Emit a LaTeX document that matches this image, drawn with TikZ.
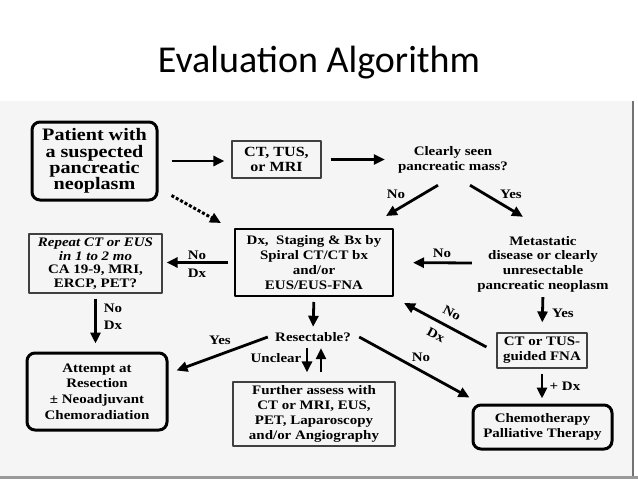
\documentclass[tikz,border=0pt]{standalone}
\usepackage{fontspec}
\setmainfont{Liberation Serif}[FakeStretch=1.15]
\newfontfamily\titlefont{Carlito}
\usetikzlibrary{arrows.meta,calc}
\begin{document}
\begin{tikzpicture}[x=1pt,y=-1pt,line join=round,>={Triangle[length=11pt,width=10pt]},
		font=\fontsize{13}{15}\selectfont\bfseries,
		box/.style={draw=black!75,line width=1.2pt,align=center,inner sep=0pt},
		mainbox/.style={draw=black,line width=2pt,align=center,inner sep=0pt},
		endbox/.style={draw=black,line width=3pt,rounded corners=8pt,align=center,inner sep=0pt},
		plain/.style={align=center,inner sep=0pt},
		arr/.style={->,line width=2.8pt},
		dotarr/.style={->,line width=3pt,dash pattern=on 3pt off 2pt}]
	\useasboundingbox (0,0) rectangle (638,479);
	\fill[black!4] (0,101) rectangle (633,476);
	\draw[black!55,line width=1.5pt] (633,101) -- (633,476);
	\draw[black!40,line width=3pt] (0,477.5) -- (638,477.5);
	\node[anchor=base,font=\titlefont\fontsize{38}{40}\selectfont] (title) at (319,72.3) {Evaluation Algorithm};
	\node[endbox,minimum width=125pt,minimum height=78pt,font=\fontsize{17.5}{16.2}\selectfont\bfseries] (patient) at (94.5,161) {Patient with\\a suspected\\pancreatic\\neoplasm};
	\node[box,minimum width=89pt,minimum height=37pt,font=\fontsize{14}{14.5}\selectfont\bfseries] (ct) at (276.5,159.5) {CT, TUS,\\or MRI};
	\node[plain,minimum width=112pt,minimum height=30pt] (clearly) at (453,160) {Clearly seen\\pancreatic mass?};
	\node[box,minimum width=133pt,minimum height=59pt,font=\fontsize{13}{13.5}\selectfont\bfseries] (repeat) at (95.5,263.5) {\textit{Repeat CT or EUS}\\\textit{in 1 to 2 mo}\\CA 19-9, MRI,\\ERCP, PET?};
	\node[mainbox,minimum width=158pt,minimum height=67pt] (dx) at (314,262.5) {Dx,\ \ Staging \& Bx by\\Spiral CT/CT bx\\and/or\\EUS/EUS-FNA};
	\node[plain,minimum width=136pt,minimum height=58pt,font=\fontsize{13}{14.7}\selectfont\bfseries] (meta) at (543,264) {Metastatic\\disease or clearly\\unresectable\\pancreatic neoplasm};
	\node[box,minimum width=90pt,minimum height=35pt] (ctfna) at (542,350.5) {CT or TUS-\\guided FNA};
	\node[plain,minimum width=78pt,minimum height=14pt] (resect) at (313,337) {Resectable?};
	\node[box,minimum width=162pt,minimum height=64pt] (further) at (314,414) {Further assess with\\CT or MRI, EUS,\\PET, Laparoscopy\\and/or Angiography};
	\node[endbox,minimum width=140pt,minimum height=77pt,font=\fontsize{13}{15.7}\selectfont\bfseries] (attempt) at (97,391.5) {Attempt at\\Resection\\± Neoadjuvant\\Chemoradiation};
	\node[endbox,minimum width=139pt,minimum height=44pt] (chemo) at (542.5,427) {Chemotherapy\\Palliative Therapy};
	\draw[arr,shorten <=13pt,shorten >=7pt] (patient.east) -- (patient.east -| ct.west);
	\draw[arr,shorten <=9pt,shorten >=12pt] (ct.east) -- (ct.east -| clearly.west);
	\draw[dotarr] ($(patient.south east)+(13,-6)$) -- ($(dx.north west)+(-13,-5)$);
	\draw[arr] ($(clearly.south)+(-15,10)$) -- ($(dx.north east)+(-8,-12)$);
	\draw[arr] ($(clearly.south)+(17,10)$) -- ($(meta.north)+(-20,-18)$);
	\draw[arr,shorten >=19pt] ($(meta.west)+(-3,-1)$) -- (dx.east);
	\draw[arr,shorten <=6pt,shorten >=4pt] (dx.west) -- (dx.west -| repeat.east);
	\draw[arr,shorten <=4pt,shorten >=10pt] (meta.south) -- (ctfna.north);
	\draw[arr] ($(ctfna.west)+(-10,-3.5)$) -- ($(dx.south east)+(10,6)$);
	\draw[arr,shorten <=5pt,shorten >=5pt] (ctfna.south) -- (ctfna.south |- chemo.north);
	\draw[arr,shorten <=5pt,shorten >=3pt] (dx.south) -- (resect.north);
	\draw[arr] ($(resect.west)+(-6,0)$) -- ($(attempt.east)+(8,-21)$);
	\draw[arr] ($(resect.east)+(7,0)$) -- ($(chemo.north west)+(-2,-6)$);
	\draw[arr] ($(resect.south)+(-6,4)$) -- ($(further.north)+(-7,-9)$);
	\draw[arr] ($(further.north)+(7,-9)$) -- ($(resect.south)+(8,4)$);
	\draw[arr,shorten <=5pt,shorten >=8pt] (repeat.south) -- (repeat.south |- attempt.north);
	\node[plain] (no1) at (396,194) {No};
	\node[plain] (yes1) at (511,194) {Yes};
	\node[plain] (no2) at (442,253) {No};
	\node[plain] (no3) at (197,255) {No};
	\node[plain] (dx3) at (197,273) {Dx};
	\node[plain] (yes2) at (563,313) {Yes};
	\node[plain,rotate=-28] (no4) at (452,313) {No};
	\node[plain,rotate=-28] (dx4) at (436,335) {Dx};
	\node[plain] (plusdx) at (565,386) {+ Dx};
	\node[plain] (yes3) at (220,340) {Yes};
	\node[plain] (no5) at (421,357) {No};
	\node[plain] (unclear) at (276,358) {Unclear};
	\node[plain] (no6) at (113,308) {No};
	\node[plain] (dx6) at (113,325) {Dx};
\end{tikzpicture}
\end{document}
